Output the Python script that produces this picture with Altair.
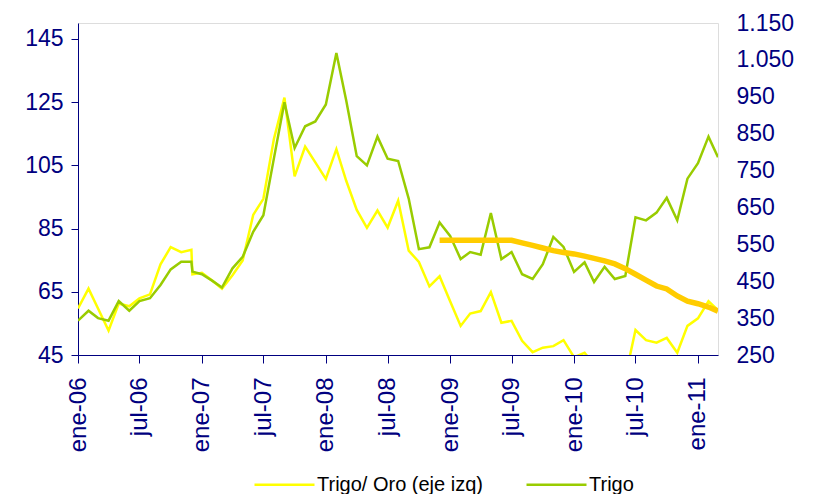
import altair as alt
import pandas as pd

# ---- data -------------------------------------------------------------
fechas = [
    "2006-01-01", "2006-02-01", "2006-03-01", "2006-04-01", "2006-05-01", "2006-06-01",
    "2006-07-01", "2006-08-01", "2006-09-01", "2006-10-01", "2006-11-01", "2006-12-01",
    "2006-12-04",
    "2007-01-01", "2007-02-01", "2007-03-01", "2007-04-01", "2007-05-01", "2007-06-01",
    "2007-07-01", "2007-08-01", "2007-09-01", "2007-10-01", "2007-11-01", "2007-12-01",
    "2008-01-01", "2008-02-01", "2008-03-01", "2008-04-01", "2008-05-01", "2008-06-01",
    "2008-07-01", "2008-08-01", "2008-09-01", "2008-10-01", "2008-11-01", "2008-12-01",
    "2009-01-01", "2009-02-01", "2009-03-01", "2009-04-01", "2009-05-01", "2009-06-01",
    "2009-07-01", "2009-08-01", "2009-09-01", "2009-10-01", "2009-11-01", "2009-12-01",
    "2010-01-01", "2010-02-01", "2010-03-01", "2010-04-01", "2010-05-01", "2010-06-01",
    "2010-07-01", "2010-08-01", "2010-09-01", "2010-10-01", "2010-11-01", "2010-12-01",
    "2011-01-01", "2011-02-01", "2011-03-01",
]

trigo_oro = [
    59.7, 66.0, 59.7, 52.7, 61.3, 60.4, 62.9, 64.2, 73.7, 79.1, 77.5, 78.3,
    70.5,
    71.0, 68.5, 66.0, 70.2, 74.9, 89.3, 94.4, 113.3, 126.4, 101.5, 110.9, 105.9,
    100.7, 110.1, 100.1, 90.9, 85.2, 90.7, 85.3, 93.8, 78.0, 74.4, 66.7, 69.9,
    62.0, 54.2, 58.1, 58.9, 64.9, 55.2, 55.8, 49.5, 45.9, 47.3, 47.8, 49.7,
    44.3, 45.7, 42.0, 40.5, 39.5, 38.0, 52.9, 49.7, 48.9, 50.4, 45.7, 54.2,
    56.6, 62.0, 59.2,
]

trigo = [
    343, 370, 350, 343, 396, 370, 396, 404, 440, 482, 503, 503,
    476,
    469, 451, 433, 485, 516, 584, 629, 783, 935, 811, 870, 883,
    929, 1069, 940, 789, 764, 842, 782, 776, 674, 537, 542, 609,
    573, 510, 529, 522, 635, 510, 529, 469, 456, 496, 570, 543,
    475, 501, 448, 489, 456, 464, 623, 615, 636, 676, 615, 728,
    770, 842, 786,
]

fechas_futuros = [
    "2008-12-01",
    "2009-01-01", "2009-02-01", "2009-03-01", "2009-04-01", "2009-05-01", "2009-06-01",
    "2009-07-01", "2009-08-01", "2009-09-01", "2009-10-01", "2009-11-01", "2009-12-01",
    "2010-01-01", "2010-02-01", "2010-03-01", "2010-04-01", "2010-05-01", "2010-06-01",
    "2010-07-01", "2010-08-01", "2010-09-01", "2010-10-01", "2010-11-01", "2010-12-01",
    "2011-01-01", "2011-02-01", "2011-03-01",
]
futuros = [
    561,
    561, 561, 561, 561, 561, 561, 561, 554, 547, 540, 533, 528,
    524, 518, 512, 505, 497, 484, 469, 453, 437, 429, 410, 396,
    389, 380, 369,
]

serie_oro = "Trigo/ Oro (eje izq)"
serie_trigo = "Trigo"

ticks_izq = [45, 65, 85, 105, 125, 145]
ticks_der = [250, 350, 450, 550, 650, 750, 850, 950, 1050, 1150]
ticks_x = [(2006, 1), (2006, 7), (2007, 1), (2007, 7), (2008, 1), (2008, 7),
           (2009, 1), (2009, 7), (2010, 1), (2010, 7), (2011, 1)]

# ---- chart ------------------------------------------------------------
df = pd.DataFrame({"fecha": fechas, "oro": trigo_oro, "trigo": trigo})
df_f = pd.DataFrame({"fecha": fechas_futuros, "fut": futuros})

NAVY = "#000080"
FONT = "Liberation Sans"

x_enc = alt.X(
    "fecha:T",
    title=None,
    scale=alt.Scale(
        type="utc",
        domain=[alt.DateTime(year=2006, month=1, date=1, utc=True),
                alt.DateTime(year=2011, month=3, date=1, utc=True)],
    ),
    axis=alt.Axis(
        values=[alt.DateTime(year=y, month=m, date=1, utc=True) for y, m in ticks_x],
        labelExpr="(utcmonth(datum.value) == 0 ? 'ene-' : 'jul-') + utcFormat(datum.value, '%y')",
        labelAngle=270,
        labelFontSize=24,
        labelFont=FONT,
        labelColor=NAVY,
        domainColor=NAVY,
        tickColor=NAVY,
        tickSize=8,
        labelPadding=14,
        grid=False,
        labelOverlap=False,
        labelFlush=False,
    ),
)

color_scale = alt.Scale(domain=[serie_oro, serie_trigo], range=["#FFFF00", "#99CC00"])
legend = alt.Legend(
    orient="none",
    legendX=175,
    legendY=430,
    direction="horizontal",
    title=None,
    symbolType="stroke",
    symbolSize=3600,
    symbolStrokeWidth=2.5,
    labelFontSize=20,
    labelFont=FONT,
    labelColor="black",
    labelLimit=0,
    columnPadding=38,
    labelOffset=1,
    padding=0,
)

amarillo = (
    alt.Chart(df)
    .transform_calculate(serie=f"'{serie_oro}'")
    .mark_line(strokeWidth=2.5, clip=True)
    .encode(
        x=x_enc,
        y=alt.Y(
            "oro:Q",
            title=None,
            scale=alt.Scale(domain=[45, 150], nice=False, zero=False),
            axis=alt.Axis(
                orient="left",
                values=ticks_izq,
                grid=False,
                labelFontSize=23,
                labelFont=FONT,
                labelColor=NAVY,
                domainColor=NAVY,
                tickColor=NAVY,
                tickSize=7,
                labelPadding=8,
            ),
        ),
        color=alt.Color("serie:N", scale=color_scale, legend=legend),
    )
)

eje_der = alt.Axis(
    orient="right",
    values=ticks_der,
    grid=False,
    domain=False,
    ticks=False,
    labelFontSize=23,
    labelFont=FONT,
    labelColor=NAVY,
    labelPadding=18,
    labelExpr="replace(format(datum.value, ','), ',', '.')",
)
escala_der = alt.Scale(domain=[250, 1150], nice=False, zero=False)

verde = (
    alt.Chart(df)
    .transform_calculate(serie=f"'{serie_trigo}'")
    .mark_line(strokeWidth=2.5, clip=True)
    .encode(
        x=x_enc,
        y=alt.Y("trigo:Q", title=None, scale=escala_der, axis=eje_der),
        color=alt.Color("serie:N", scale=color_scale, legend=legend),
    )
)

naranja = (
    alt.Chart(df_f)
    .mark_line(strokeWidth=5.5, color="#FFCC00", clip=True)
    .encode(
        x=x_enc,
        y=alt.Y("fut:Q", title=None, scale=escala_der, axis=eje_der),
    )
)

chart = (
    alt.layer(amarillo, alt.layer(verde, naranja))
    .resolve_scale(y="independent")
    .properties(
        width=640,
        height=332,
        autosize=alt.AutoSizeParams(type="none"),
        padding={"left": 70, "top": 15, "right": 96, "bottom": 139},
    )
    .configure_view(stroke=None)
    .configure(background="white")
)

chart.save("out.html", embed_options={"renderer": "svg", "actions": False})
